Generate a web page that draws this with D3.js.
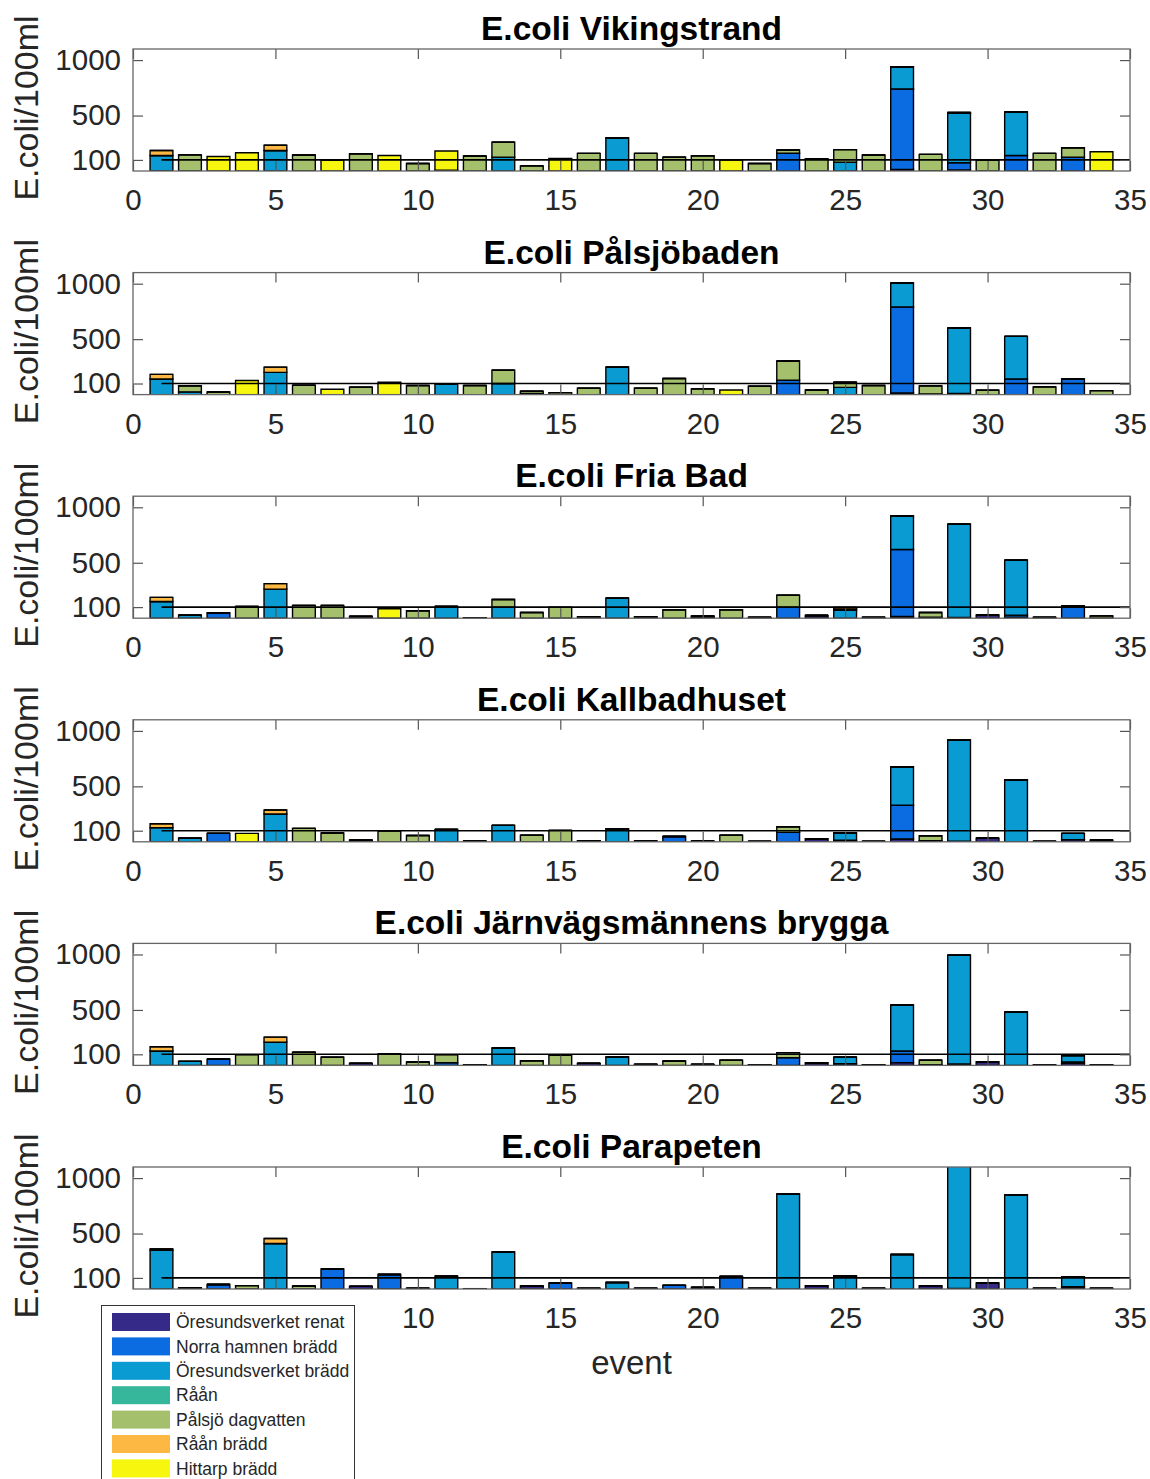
<!DOCTYPE html>
<html>
<head>
<meta charset="utf-8">
<script src="https://cdn.jsdelivr.net/npm/d3@7"></script>
<style>
  html, body { margin: 0; padding: 0; background: #fff; }
  svg { display: block; font-family: "Liberation Sans", Arial, Helvetica, sans-serif; }
</style>
</head>
<body>
<svg id="chart" width="1150" height="1479"></svg>
<script>
// Event numbers (x axis)
const events = d3.range(1, 35);

// Sources, stacked bottom to top
const sources = ["Öresundsverket renat", "Norra hamnen brädd", "Öresundsverket brädd",
                 "Råån", "Pålsjö dagvatten", "Råån brädd", "Hittarp brädd"];
const sourceColors = ["#352a87", "#0a6ce0", "#0a9bd2", "#36b69a", "#a4c06c", "#fcb842", "#f6f60e"];

const sites = ["E.coli Vikingstrand", "E.coli Pålsjöbaden", "E.coli Fria Bad",
               "E.coli Kallbadhuset", "E.coli Järnvägsmännens brygga", "E.coli Parapeten"];

const yTicks = [100, 500, 1000];
const xTicks = [0, 5, 10, 15, 20, 25, 30, 35];
const limitValue = 100;

// E.coli/100ml per event, one row per source (order as in `sources`)
const vikingstrand = [
  [0,0,0,0,0,0,0,0,0,0,8,0,0,0,0,0,0,0,0,0,0,0,0,0,0,0,15,0,10,0,0,0,0,0],
  [0,0,0,0,0,0,0,0,0,0,0,0,0,0,0,0,0,0,0,0,0,0,160,0,0,0,725,0,65,0,140,0,125,0],
  [140,0,0,0,185,0,0,0,0,0,0,0,125,0,0,0,300,0,0,0,0,0,0,0,80,0,200,0,445,0,392,0,0,0],
  [0,0,0,0,0,0,0,0,0,0,0,0,0,0,0,0,0,0,0,0,0,0,0,0,0,0,0,0,0,0,0,0,0,0],
  [0,145,0,0,0,144,0,156,0,67,0,135,135,46,0,159,0,159,125,138,0,67,30,110,113,144,0,150,8,98,0,159,85,0],
  [45,0,0,0,47,0,0,0,0,0,0,0,0,0,0,0,0,0,0,0,0,0,0,0,0,0,0,0,0,0,0,0,0,0],
  [0,0,131,165,0,0,97,0,140,0,172,0,0,0,113,0,0,0,0,0,98,0,0,0,0,0,0,0,0,0,0,0,0,174]
];
const palsjobaden = [
  [0,0,0,0,0,0,0,0,0,0,0,0,0,10,0,0,0,0,0,0,0,0,0,0,0,0,15,5,10,0,0,0,0,0],
  [0,0,0,0,0,0,0,0,0,0,0,0,0,0,0,0,0,0,0,0,0,0,130,0,0,0,775,0,0,0,140,0,142,0],
  [140,25,0,0,200,0,0,0,0,0,97,0,100,0,0,0,248,0,0,0,0,0,0,0,65,0,216,0,590,0,385,0,0,0],
  [0,0,0,0,0,0,0,0,0,0,0,0,0,0,0,0,0,0,0,0,0,0,0,0,0,0,0,0,0,0,0,0,0,0],
  [0,55,24,0,0,85,0,67,0,82,0,82,120,20,18,58,0,58,145,52,0,76,173,42,47,82,0,74,0,39,0,70,0,36],
  [42,0,0,0,48,0,0,0,0,0,0,0,0,0,0,0,0,0,0,0,0,0,0,0,0,0,0,0,0,0,0,0,0,0],
  [0,0,0,127,0,0,48,0,112,0,0,0,0,0,0,0,0,0,0,0,42,0,0,0,0,0,0,0,0,0,0,0,0,0]
];
const friaBad = [
  [0,0,0,0,0,0,0,15,0,0,0,5,0,0,0,12,0,12,0,8,0,6,0,24,0,6,15,10,6,30,8,6,0,0],
  [0,0,49,0,0,0,0,0,0,0,0,0,0,0,0,0,0,0,0,0,0,0,100,0,0,0,605,0,0,0,20,0,110,0],
  [150,27,0,0,262,0,0,0,0,0,107,0,100,0,0,0,180,0,0,0,0,0,0,0,72,0,304,0,842,0,496,0,0,0],
  [0,0,0,0,0,0,0,0,0,0,0,0,0,0,0,0,0,0,0,0,0,0,0,0,0,0,0,0,0,0,0,0,0,0],
  [0,0,0,107,0,116,116,0,0,67,0,0,68,52,98,0,0,0,76,13,76,0,107,0,10,0,0,42,0,0,0,0,0,21],
  [38,0,0,0,50,0,0,0,0,0,0,0,0,0,0,0,0,0,0,0,0,0,0,0,14,0,0,0,0,0,0,0,0,0],
  [0,0,0,0,0,0,0,0,85,0,0,0,0,0,0,0,0,0,0,0,0,0,0,0,0,0,0,0,0,0,0,0,0,0]
];
const kallbadhuset = [
  [0,0,0,0,0,0,0,15,0,0,0,6,0,0,0,9,0,6,0,6,0,3,0,27,0,3,25,10,6,33,0,3,20,15],
  [0,0,76,0,0,0,0,0,0,0,0,0,0,0,0,0,0,0,48,0,0,0,85,0,14,0,305,0,0,0,0,0,0,0],
  [128,33,0,0,250,0,0,0,0,0,112,0,148,0,0,0,118,0,0,0,0,0,0,0,68,0,347,0,912,0,559,0,56,0],
  [0,0,0,0,0,0,0,0,0,0,0,0,0,0,0,0,0,0,0,0,0,0,0,0,0,0,0,0,0,0,0,0,0,0],
  [0,0,0,0,0,121,79,0,100,57,0,0,0,60,103,0,0,0,0,0,60,0,51,0,0,0,0,45,0,0,0,0,0,0],
  [35,0,0,0,37,0,0,0,0,0,0,0,0,0,0,0,0,0,0,0,0,0,0,0,0,0,0,0,0,0,0,0,0,0],
  [0,0,0,76,0,0,0,0,0,0,0,0,0,0,0,0,0,0,0,0,0,0,0,0,0,0,0,0,0,0,0,0,0,0]
];
const jarnvagsmannensBrygga = [
  [0,0,0,0,0,0,0,18,0,0,0,6,0,0,0,18,0,9,0,9,0,6,0,24,0,6,25,6,12,33,0,3,18,6],
  [0,0,55,0,0,0,0,0,0,0,25,0,0,0,0,0,0,0,0,0,0,0,70,0,15,0,105,0,0,0,0,0,12,0],
  [130,36,0,0,210,0,0,0,0,0,0,0,158,0,0,0,76,0,0,0,0,0,0,0,58,0,415,0,982,0,482,0,58,0],
  [0,0,0,0,0,0,0,0,0,0,0,0,0,0,0,0,0,0,0,0,0,0,0,0,0,0,0,0,0,0,0,0,0,0],
  [0,0,0,97,0,118,73,0,103,30,72,0,0,42,91,0,0,0,39,0,48,0,45,0,0,0,0,40,0,0,0,0,0,0],
  [38,0,0,0,45,0,0,0,0,0,0,0,0,0,0,0,0,0,0,0,0,0,0,0,0,0,0,0,0,0,0,0,0,0],
  [0,0,0,0,0,0,0,0,0,0,0,0,0,0,0,0,0,0,0,0,0,0,0,0,0,0,0,0,0,0,0,0,0,0]
];
const parapeten = [
  [0,12,0,0,0,0,0,24,0,6,0,3,0,27,0,6,0,6,0,15,0,6,0,30,0,6,0,30,6,55,0,6,20,6],
  [0,0,40,0,0,0,180,0,131,0,0,0,0,0,52,0,0,0,33,0,113,0,0,0,0,0,0,0,0,0,0,0,0,0],
  [350,0,0,0,410,0,0,0,0,0,116,0,335,0,0,0,58,0,0,0,0,0,857,0,119,0,311,0,1150,0,850,0,90,0],
  [0,0,0,0,0,0,0,0,0,0,0,0,0,0,0,0,0,0,0,0,0,0,0,0,0,0,0,0,0,0,0,0,0,0],
  [0,0,0,30,0,27,0,0,0,0,0,0,0,0,0,0,0,0,0,0,0,0,0,0,0,0,0,0,0,0,0,0,0,0],
  [12,0,0,0,45,0,0,0,0,0,0,0,0,0,0,0,0,0,0,0,0,0,0,0,0,0,0,0,0,0,0,0,0,0],
  [0,0,0,0,0,0,0,0,0,0,0,0,0,0,0,0,0,0,0,0,0,0,0,0,0,0,0,0,0,0,0,0,0,0]
];
const siteData = [vikingstrand, palsjobaden, friaBad, kallbadhuset, jarnvagsmannensBrygga, parapeten];

// ---- layout ----
const svg = d3.select("#chart");
const plotLeft = 133, plotRight = 1130;
const firstTop = 49, plotHeight = 122, panelStep = 223.6;
const tickFont = 29.5, axisColor = "#262626";
const legendBox = { x: 101.5, y: 1305.5, w: 253, h: 200 };

const x = d3.scaleLinear().domain([0, 35]).range([plotLeft, plotRight]);
const barHalf = 0.4;

const stackGen = d3.stack().keys(d3.range(sources.length));
const lastPanel = siteData.length - 1;

siteData.forEach((rows, si) => {
  const top = firstTop + si * panelStep;
  const bottom = top + plotHeight;
  const y = d3.scaleLinear().domain([0, 1100]).range([bottom, top]);

  const g = svg.append("g").attr("class", "panel");

  const clipId = "clip" + si;
  svg.append("clipPath").attr("id", clipId)
    .append("rect").attr("x", plotLeft).attr("y", top)
    .attr("width", plotRight - plotLeft).attr("height", plotHeight);

  // one record per event: {0: renat, 1: ..., event}
  const table = events.map((ev, i) => {
    const rec = { event: ev };
    rows.forEach((r, k) => { rec[k] = r[i]; });
    return rec;
  });
  const stacked = stackGen(table);

  const bars = g.append("g").attr("clip-path", `url(#${clipId})`);
  stacked.forEach((layer, k) => {
    bars.append("g")
      .selectAll("path")
      .data(layer)
      .join("path")
      .attr("d", d => {
        const x0 = x(d.data.event - barHalf), x1 = x(d.data.event + barHalf);
        const y0 = y(d[0]), y1 = y(d[1]);
        return `M${x0},${y0}H${x1}V${y1}H${x0}Z`;
      })
      .attr("fill", sourceColors[k])
      .attr("stroke", "#000")
      .attr("stroke-width", 1.4);
  });

  // reference line at 100
  g.append("line")
    .attr("x1", x(1)).attr("x2", x(35))
    .attr("y1", y(limitValue)).attr("y2", y(limitValue))
    .attr("stroke", "#000").attr("stroke-width", 1.6);

  // bottom tick labels that the legend box covers are left blank
  const hiddenX = v => si === lastPanel && x(v) + 15 > legendBox.x && x(v) - 15 < legendBox.x + legendBox.w;

  // axes with inward ticks
  const axB = g.append("g").attr("transform", `translate(0,${bottom})`)
    .call(d3.axisBottom(x).tickValues(xTicks).tickSizeInner(-10).tickSizeOuter(0).tickPadding(18)
      .tickFormat(v => hiddenX(v) ? "" : d3.format("d")(v)));
  const axT = g.append("g").attr("transform", `translate(0,${top})`)
    .call(d3.axisTop(x).tickValues(xTicks).tickSizeInner(-10).tickSizeOuter(0).tickFormat(""));
  const axL = g.append("g").attr("transform", `translate(${plotLeft},0)`)
    .call(d3.axisLeft(y).tickValues(yTicks).tickSizeInner(-10).tickSizeOuter(0).tickPadding(12)
      .tickFormat(d3.format("d")));
  const axR = g.append("g").attr("transform", `translate(${plotRight},0)`)
    .call(d3.axisRight(y).tickValues(yTicks).tickSizeInner(-10).tickSizeOuter(0).tickFormat(""));

  [axB, axT, axL, axR].forEach(a => {
    a.select(".domain").remove();
    a.selectAll(".tick line").attr("stroke", "#555").attr("stroke-width", 1.2);
    a.selectAll(".tick text").attr("fill", axisColor)
      .style("font-size", tickFont + "px")
      .style("font-family", "'Liberation Sans', Arial, sans-serif");
  });

  // box
  g.append("rect")
    .attr("x", plotLeft).attr("y", top)
    .attr("width", plotRight - plotLeft).attr("height", plotHeight)
    .attr("fill", "none").attr("stroke", "#666").attr("stroke-width", 1.3);

  // title
  g.append("text")
    .attr("x", (plotLeft + plotRight) / 2).attr("y", top - 9)
    .attr("text-anchor", "middle")
    .style("font-size", "33.5px").style("font-weight", "bold").attr("fill", "#000")
    .text(sites[si]);

  // y label
  g.append("text")
    .attr("transform", `translate(38,${(top + bottom) / 2 - 2}) rotate(-90)`)
    .attr("text-anchor", "middle")
    .style("font-size", "34px").attr("fill", axisColor)
    .text("E.coli/100ml");
});

// x label
svg.append("text")
  .attr("x", (plotLeft + plotRight) / 2).attr("y", 1374)
  .attr("text-anchor", "middle")
  .style("font-size", "33px").attr("fill", axisColor)
  .text("event");

// legend
const legend = svg.append("g");
legend.append("rect")
  .attr("x", legendBox.x).attr("y", legendBox.y).attr("width", legendBox.w).attr("height", legendBox.h)
  .attr("fill", "#fff").attr("stroke", "#333").attr("stroke-width", 1);
sources.forEach((name, k) => {
  const cy = 1322 + k * 24.4;
  legend.append("rect")
    .attr("x", 112).attr("y", cy - 9).attr("width", 58).attr("height", 18)
    .attr("fill", sourceColors[k]);
  legend.append("text")
    .attr("x", 176).attr("y", cy).attr("dy", "0.35em")
    .style("font-size", "17.5px").attr("fill", axisColor)
    .text(name);
});
</script>
</body>
</html>
